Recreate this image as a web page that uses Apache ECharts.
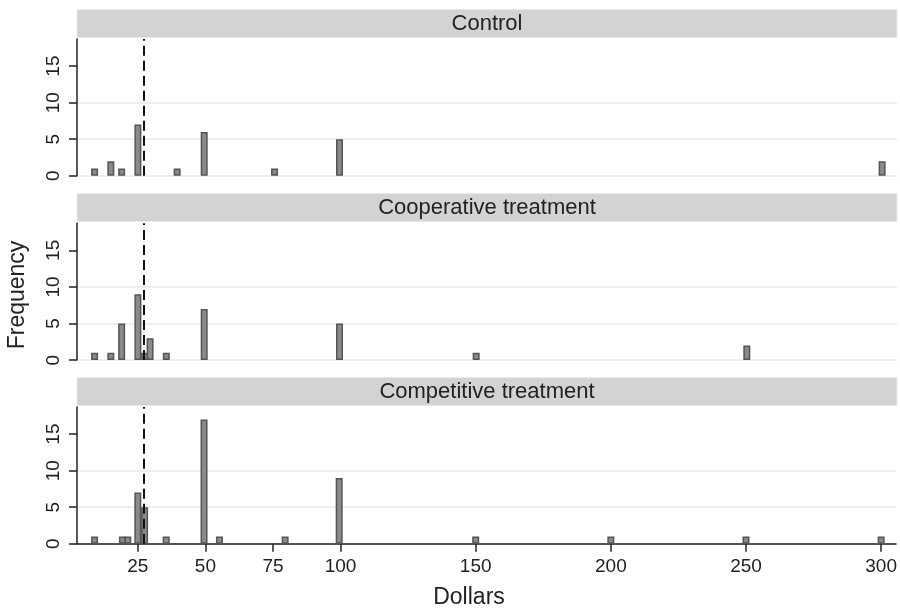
<!DOCTYPE html>
<html><head><meta charset="utf-8">
<script src="https://cdn.jsdelivr.net/npm/echarts@6/dist/echarts.min.js"></script>
<style>html,body{margin:0;padding:0;background:#fff}#c{width:900px;height:611px}</style>
</head><body><div id="c"></div>
<script>
const panelTitles = ['Control', 'Cooperative treatment', 'Competitive treatment'];
const controlX = [9, 15, 19, 25, 39.5, 49.5, 75.5, 99.5, 300];
const controlY = [1, 2, 1, 7, 1, 6, 1, 5, 2];
const cooperativeX = [9, 15, 19, 25, 27.5, 29.5, 35.5, 49.5, 99.5, 150, 250];
const cooperativeY = [1, 1, 5, 9, 1, 3, 1, 7, 5, 1, 2];
const competitiveX = [9, 19.3, 21.3, 25, 27.5, 35.5, 49.5, 55.2, 79.5, 99.5, 150, 200, 250, 300];
const competitiveY = [1, 1, 1, 7, 5, 1, 17, 1, 1, 9, 1, 1, 1, 1];
const meanLine = 27.3;
const xTicks = [25, 50, 75, 100, 150, 200, 250, 300];
const yTicks = [0, 5, 10, 15];
const xTitle = 'Dollars';
const yTitle = 'Frequency';

const panelsX = [controlX, cooperativeX, competitiveX];
const panelsY = [controlY, cooperativeY, competitiveY];

const FONT = '"Liberation Sans", Arial, Helvetica, sans-serif';
const gridTops = [39, 223.3, 407];
const gridH = 136.8;
const stripTops = [9.5, 193.5, 377.5];
const L = 77, R = 897;

const grids = [], xAxes = [], yAxes = [], series = [], graphics = [];
for (let i = 0; i < 3; i++) {
  grids.push({left: L, top: gridTops[i], width: R - L, height: gridH});
  const bottom = i === 2;
  xAxes.push({
    type: 'value', gridIndex: i, min: 2.5, max: 305.5,
    axisLine: {show: bottom, onZero: false, lineStyle: {color: '#222', width: 1.5}},
    axisTick: {show: bottom, length: 8, customValues: xTicks, lineStyle: {color: '#222', width: 1.5}},
    axisLabel: {show: bottom, customValues: xTicks, color: '#222', fontSize: 19, fontFamily: FONT, margin: 13},
    splitLine: {show: false}
  });
  yAxes.push({
    type: 'value', gridIndex: i, min: 0, max: 18.7,
    axisLine: {show: true, lineStyle: {color: '#222', width: 1.5}},
    axisTick: {show: true, length: 8, customValues: yTicks, lineStyle: {color: '#222', width: 1.5}},
    axisLabel: {customValues: yTicks, rotate: 90, color: '#222', fontSize: 19, fontFamily: FONT, margin: 14},
    splitLine: {show: true, showMaxLine: false, lineStyle: {color: '#efefef', width: 2}}
  });
  series.push({
    type: 'bar', xAxisIndex: i, yAxisIndex: i,
    data: panelsX[i].map((x, k) => [x, panelsY[i][k]]),
    barWidth: 7,
    itemStyle: {color: '#8a8a8a', borderColor: '#555', borderWidth: 1.5},
    markLine: {
      silent: true, symbol: 'none', label: {show: false},
      lineStyle: {color: '#111', type: [10, 5], width: 2},
      data: [{xAxis: meanLine}]
    },
    animation: false
  });
  graphics.push({
    type: 'rect', shape: {x: L, y: stripTops[i], width: R - L, height: 28},
    style: {fill: '#d3d3d3', stroke: '#eaeaea', lineWidth: 1}
  });
  graphics.push({
    type: 'text', x: (L + R) / 2, y: stripTops[i] + 14.5,
    style: {text: panelTitles[i], fill: '#222', font: '22px ' + FONT, textAlign: 'center', textVerticalAlign: 'middle'}
  });
}
graphics.push({
  type: 'text', x: 469, y: 598,
  style: {text: xTitle, fill: '#222', font: '23px ' + FONT, textAlign: 'center', textVerticalAlign: 'middle'}
});
graphics.push({
  type: 'text', x: 18, y: 295, rotation: Math.PI / 2,
  style: {text: yTitle, fill: '#222', font: '23px ' + FONT, textAlign: 'center', textVerticalAlign: 'middle'}
});

const chart = echarts.init(document.getElementById('c'), null, {renderer: 'canvas'});
chart.setOption({
  animation: false,
  backgroundColor: '#fff',
  grid: grids, xAxis: xAxes, yAxis: yAxes, series: series, graphic: graphics
});
</script></body></html>
